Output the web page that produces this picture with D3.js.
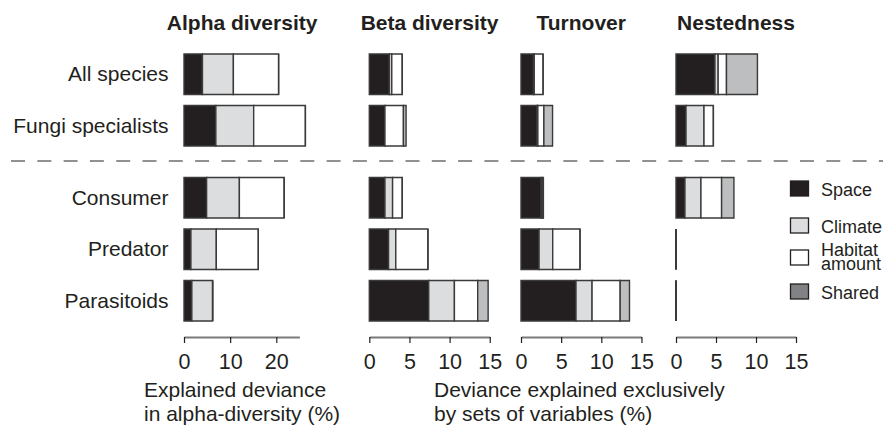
<!DOCTYPE html>
<html>
<head>
<meta charset="utf-8">
<script src="https://cdn.jsdelivr.net/npm/d3@7/dist/d3.min.js"></script>
<style>
  html, body { margin: 0; padding: 0; background: #fff; }
  svg { display: block; }
  text { font-family: "Liberation Sans", Arial, Helvetica, sans-serif; fill: #231f20; }
</style>
</head>
<body>
<div id="chart"></div>
<script>
// ---------- data ----------
const categories = ["All species", "Fungi specialists", "Consumer", "Predator", "Parasitoids"];
const components = ["Space", "Climate", "Habitat amount", "Shared"];
const panelTitles = ["Alpha diversity", "Beta diversity", "Turnover", "Nestedness"];

// Alpha diversity (explained deviance, %)
const alphaSpace   = [4.0, 6.9, 4.9, 1.5, 1.7];
const alphaClimate = [6.7, 8.2, 7.1, 5.5, 4.5];
const alphaHabitat = [9.8, 11.2, 9.7, 9.1, 0];
const alphaShared  = [0, 0, 0, 0, 0];

// Beta diversity
const betaSpace   = [2.5, 1.95, 1.95, 2.4, 7.4];
const betaClimate = [0.3, 0, 0.95, 0.9, 3.2];
const betaHabitat = [1.3, 2.3, 1.2, 4.0, 2.9];
const betaShared  = [0, 0.33, 0, 0, 1.3];

// Turnover
const turnSpace   = [1.55, 2.0, 2.5, 2.25, 6.85];
const turnClimate = [0.1, 0.1, 0.12, 1.7, 2.0];
const turnHabitat = [1.1, 0.75, 0.1, 3.4, 3.5];
const turnShared  = [0, 1.08, 0.07, 0, 1.16];

// Nestedness
const nestSpace   = [4.87, 1.25, 1.12, 0, 0];
const nestClimate = [0.4, 2.25, 2.0, 0, 0];
const nestHabitat = [1.04, 1.17, 2.58, 0, 0];
const nestShared  = [3.87, 0, 1.54, 0, 0];

const alphaTicks = [0, 10, 20];
const devTicks = [0, 5, 10, 15];
const alphaAxisMax = 25;
const devAxisMax = 15;

const axisTitleAlpha = ["Explained deviance", "in alpha-diversity (%)"];
const axisTitleDev = ["Deviance explained exclusively", "by sets of variables (%)"];

// ---------- styles ----------
const fillColors = { "Space": "#231f20", "Climate": "#dcdddf", "Habitat amount": "#ffffff", "Shared": "#bcbec0" };
const legendFills = { "Space": "#231f20", "Climate": "#dcdddf", "Habitat amount": "#ffffff", "Shared": "#808285" };

const W = 883, H = 436;
const svg = d3.select("#chart").append("svg").attr("width", W).attr("height", H);

// vertical layout: two groups separated by a gap
const groupOf = i => (i < 2 ? 0 : 1);
const slot = categories.map((c, i) => i + (groupOf(i) ? 0.4 : 0));
const y = d3.scaleLinear().domain([0, 4.4]).range([74.2, 74.2 + 51.5 * 4.4]);
const barH = 40.5;

const panels = [
  { title: panelTitles[0], series: [alphaSpace, alphaClimate, alphaHabitat, alphaShared], x: d3.scaleLinear().domain([0, alphaAxisMax]).range([184, 184 + 4.615 * alphaAxisMax]), ticks: alphaTicks },
  { title: panelTitles[1], series: [betaSpace, betaClimate, betaHabitat, betaShared], x: d3.scaleLinear().domain([0, devAxisMax]).range([369.3, 369.3 + 8.03 * devAxisMax]), ticks: devTicks },
  { title: panelTitles[2], series: [turnSpace, turnClimate, turnHabitat, turnShared], x: d3.scaleLinear().domain([0, devAxisMax]).range([521, 521 + 8.03 * devAxisMax]), ticks: devTicks },
  { title: panelTitles[3], series: [nestSpace, nestClimate, nestHabitat, nestShared], x: d3.scaleLinear().domain([0, devAxisMax]).range([676, 676 + 8.0 * devAxisMax]), ticks: devTicks }
];

// dashed separator
svg.append("line")
  .attr("x1", 11).attr("x2", W)
  .attr("y1", 161).attr("y2", 161)
  .attr("stroke", "#6d6e70").attr("stroke-width", 1.6)
  .attr("stroke-dasharray", "14,12.3");

// row labels
svg.append("g").selectAll("text").data(categories).join("text")
  .attr("x", 168.5)
  .attr("y", (d, i) => y(slot[i]))
  .attr("dy", "0.33em")
  .attr("text-anchor", "end")
  .style("font-size", "21px")
  .text(d => d);

const axisY = 337;

panels.forEach(p => {
  const rows = categories.map((c, i) => {
    const o = { cat: c, idx: i };
    components.forEach((k, j) => o[k] = p.series[j][i]);
    return o;
  });
  const stacked = d3.stack().keys(components)(rows);
  const g = svg.append("g");

  stacked.forEach(layer => {
    g.append("g").selectAll("path").data(layer).join("path")
      .attr("d", d => {
        const x0 = p.x(d[0]), x1 = p.x(d[1]);
        const yc = y(slot[d.data.idx]);
        const y0 = yc - barH / 2, y1 = yc + barH / 2;
        return `M${x0},${y0}H${x1}V${y1}H${x0}Z`;
      })
      .attr("fill", fillColors[layer.key])
      .attr("stroke", "#3a3a3a")
      .attr("stroke-width", 1.4);
  });

  // axis
  const ax = svg.append("g")
    .attr("transform", `translate(0,${axisY})`)
    .call(d3.axisBottom(p.x).tickValues(p.ticks).tickSize(6).tickSizeOuter(0).tickPadding(11));
  ax.select(".domain").attr("stroke", "#7a7a7a").attr("stroke-width", 2);
  ax.selectAll(".tick line").attr("stroke", "#231f20").attr("stroke-width", 1.2);
  ax.selectAll(".tick text")
    .style("font-family", '"Liberation Sans", Arial, sans-serif')
    .style("font-size", "21.5px")
    .attr("fill", "#231f20");

  // title
  svg.append("text")
    .attr("x", (p.x(0) + p.x(p.ticks[p.ticks.length - 1])) / 2 + (p.ticks.length === 3 ? 12 : 0))
    .attr("y", 30)
    .attr("text-anchor", "middle")
    .style("font-size", "21px")
    .style("font-weight", "bold")
    .text(p.title);
});

// axis titles
function multiline(lines, x, y0) {
  const t = svg.append("text").attr("x", x).attr("y", y0).style("font-size", "21px");
  lines.forEach((l, i) => t.append("tspan").attr("x", x).attr("dy", i === 0 ? 0 : 24).text(l));
}
multiline(axisTitleAlpha, 144, 397);
multiline(axisTitleDev, 434, 397);

// legend
const legendTops = [181, 218, 250, 284];
const lg = svg.append("g");
components.forEach((k, i) => {
  const top = legendTops[i];
  lg.append("rect")
    .attr("x", 790.5).attr("y", top)
    .attr("width", 18).attr("height", 15)
    .attr("fill", legendFills[k])
    .attr("stroke", "#231f20").attr("stroke-width", 1.3);
  if (k === "Habitat amount") {
    const t = lg.append("text").attr("x", 821).attr("y", top + 6).style("font-size", "18px");
    t.append("tspan").attr("x", 821).attr("dy", 0).text("Habitat");
    t.append("tspan").attr("x", 821).attr("dy", 14).text("amount");
  } else {
    lg.append("text").attr("x", 821).attr("y", top + 14.5).style("font-size", "18px").text(k);
  }
});
</script>
</body>
</html>
